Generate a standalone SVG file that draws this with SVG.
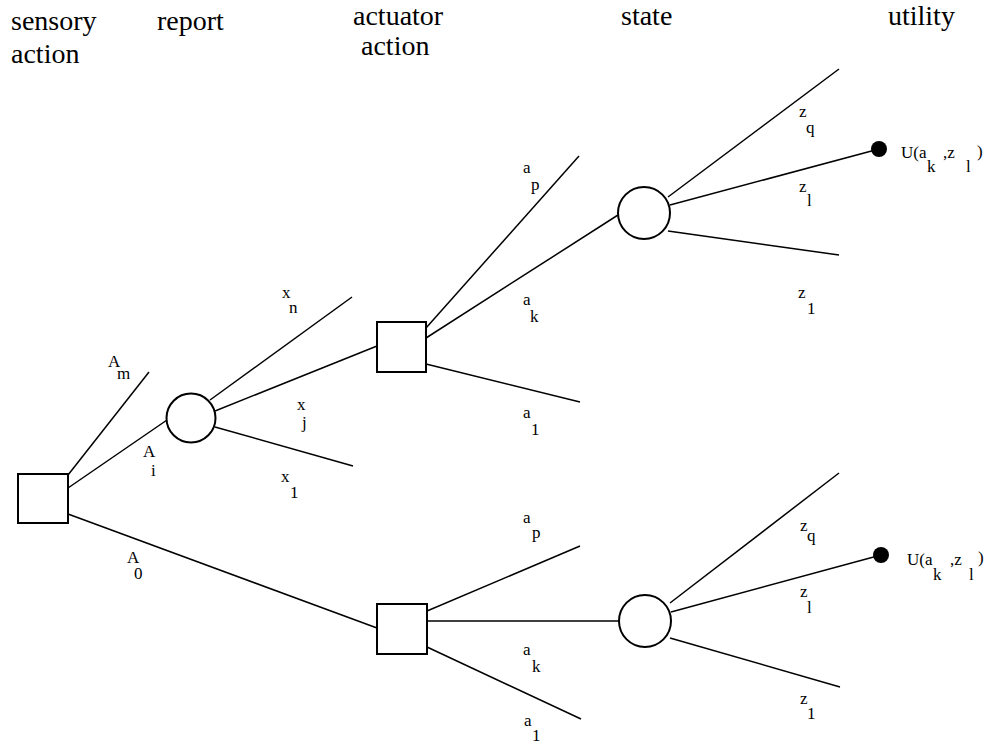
<svg xmlns="http://www.w3.org/2000/svg" width="987" height="746" viewBox="0 0 987 746" font-family="'Liberation Serif', serif">
<style>
  text { font-family: 'Liberation Serif', 'DejaVu Serif', serif; fill: #000; }
  .hdr { font-size: 28px; }
  .lbl { font-size: 17px; }
  .conn line { stroke: #000; stroke-width: 1.5; fill: none; }
  .dec { fill: #fff; stroke: #000; stroke-width: 2; }
  .chance { fill: #fff; stroke: #000; stroke-width: 2; }
  .util { fill: #000; stroke: none; }
</style>
<rect x="0" y="0" width="987" height="746" fill="#fff"/>

<g id="headers">
  <text class="hdr" x="11" y="30">sensory</text>
  <text class="hdr" x="11" y="63">action</text>
  <text class="hdr" x="157" y="30">report</text>
  <text class="hdr" x="353" y="25">actuator</text>
  <text class="hdr" x="361" y="55">action</text>
  <text class="hdr" x="621" y="25">state</text>
  <text class="hdr" x="888" y="25">utility</text>
</g>

<g id="connectors" class="conn">
  <line x1="68" y1="475" x2="149" y2="372"/>
  <line x1="68" y1="488" x2="167" y2="420"/>
  <line x1="68" y1="514" x2="377" y2="628"/>
  <line x1="210" y1="400" x2="352" y2="297"/>
  <line x1="215" y1="411" x2="377" y2="346"/>
  <line x1="215" y1="427" x2="353" y2="466"/>
  <line x1="426" y1="328" x2="579" y2="156"/>
  <line x1="426" y1="338" x2="618" y2="215"/>
  <line x1="426" y1="364" x2="580" y2="402"/>
  <line x1="668" y1="197" x2="839" y2="69"/>
  <line x1="670" y1="205" x2="879" y2="149"/>
  <line x1="668" y1="231" x2="839" y2="255"/>
  <line x1="427" y1="611" x2="580" y2="546"/>
  <line x1="427" y1="621" x2="619" y2="621"/>
  <line x1="427" y1="647" x2="581" y2="719"/>
  <line x1="670" y1="603" x2="839" y2="473"/>
  <line x1="671" y1="612" x2="881" y2="555"/>
  <line x1="670" y1="638" x2="840" y2="687"/>
</g>

<g id="sensory-decision"><rect class="dec" x="18" y="474" width="50" height="49"/></g>
<g id="report-chance"><circle class="chance" cx="191" cy="418" r="24.5"/></g>
<g id="actuator-upper"><rect class="dec" x="377" y="322" width="49" height="50"/></g>
<g id="actuator-lower"><rect class="dec" x="377" y="604" width="50" height="50"/></g>
<g id="state-upper"><circle class="chance" cx="644" cy="213" r="26"/></g>
<g id="state-lower"><circle class="chance" cx="645" cy="621" r="26"/></g>
<g id="utility-upper">
  <circle class="util" cx="879" cy="149" r="8"/>
  <text class="lbl"><tspan x="901" y="158">U(a</tspan><tspan x="927" y="172">k</tspan><tspan x="943" y="158">,z</tspan><tspan x="966" y="172">l</tspan><tspan x="977" y="157">)</tspan></text>
</g>
<g id="utility-lower">
  <circle class="util" cx="881" cy="555" r="8"/>
  <text class="lbl"><tspan x="907" y="565">U(a</tspan><tspan x="933" y="580">k</tspan><tspan x="950" y="565">,z</tspan><tspan x="969" y="580">l</tspan><tspan x="978" y="563">)</tspan></text>
</g>

<g id="labels">
  <text class="lbl"><tspan x="108" y="367">A</tspan><tspan x="117" y="379">m</tspan></text>
  <text class="lbl"><tspan x="143" y="457">A</tspan><tspan x="151" y="476">i</tspan></text>
  <text class="lbl"><tspan x="127" y="563">A</tspan><tspan x="134" y="579">0</tspan></text>
  <text class="lbl"><tspan x="282" y="298">x</tspan><tspan x="289" y="313">n</tspan></text>
  <text class="lbl"><tspan x="297" y="410">x</tspan><tspan x="302" y="428">j</tspan></text>
  <text class="lbl"><tspan x="281" y="482">x</tspan><tspan x="290" y="498">1</tspan></text>
  <text class="lbl"><tspan x="523" y="173">a</tspan><tspan x="531" y="190">p</tspan></text>
  <text class="lbl"><tspan x="523" y="305">a</tspan><tspan x="530" y="322">k</tspan></text>
  <text class="lbl"><tspan x="523" y="418">a</tspan><tspan x="531" y="435">1</tspan></text>
  <text class="lbl"><tspan x="799" y="117">z</tspan><tspan x="806" y="133">q</tspan></text>
  <text class="lbl"><tspan x="799" y="192">z</tspan><tspan x="807" y="206">l</tspan></text>
  <text class="lbl"><tspan x="798" y="298">z</tspan><tspan x="807" y="314">1</tspan></text>
  <text class="lbl"><tspan x="523" y="523">a</tspan><tspan x="532" y="538">p</tspan></text>
  <text class="lbl"><tspan x="523" y="655">a</tspan><tspan x="532" y="672">k</tspan></text>
  <text class="lbl"><tspan x="524" y="726">a</tspan><tspan x="532" y="741">1</tspan></text>
  <text class="lbl"><tspan x="800" y="531">z</tspan><tspan x="807" y="541">q</tspan></text>
  <text class="lbl"><tspan x="800" y="597">z</tspan><tspan x="807" y="613">l</tspan></text>
  <text class="lbl"><tspan x="800" y="704">z</tspan><tspan x="807" y="719">1</tspan></text>
</g>
</svg>
